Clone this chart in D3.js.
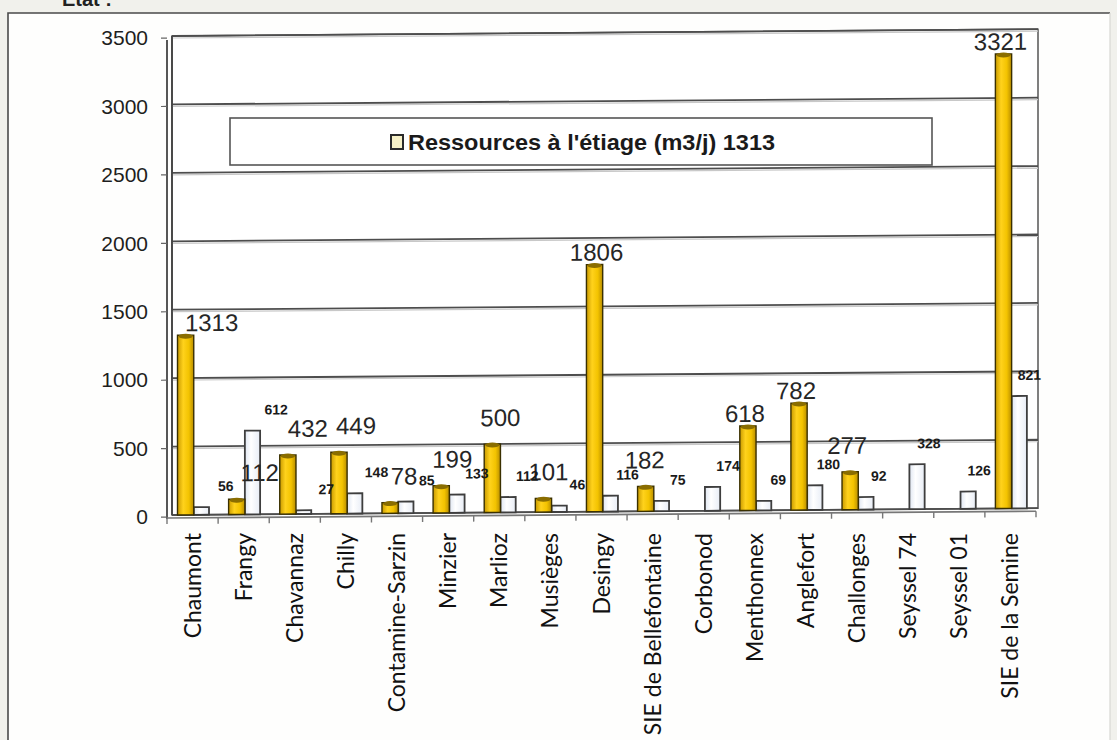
<!DOCTYPE html>
<html>
<head>
<meta charset="utf-8">
<script src="https://cdn.jsdelivr.net/npm/d3@7"></script>
<style>
  html, body { margin: 0; padding: 0; background: #f1f1ec; }
  svg { display: block; }
</style>
</head>
<body>
<svg id="chart" width="1117" height="740"></svg>
<script>
// ---- data ----
const categories = ["Chaumont","Frangy","Chavannaz","Chilly","Contamine-Sarzin","Minzier","Marlioz","Musièges","Desingy","SIE de Bellefontaine","Corbonod","Menthonnex","Anglefort","Challonges","Seyssel 74","Seyssel 01","SIE de la Semine"];
const ressources = [1313,112,432,449,78,199,500,101,1806,182,null,618,782,277,null,null,3321];
const besoins = [56,612,27,148,85,133,112,46,116,75,174,69,180,92,328,126,821];
const yTicks = [0,500,1000,1500,2000,2500,3000,3500];
const legendLabel = "Ressources à l'étiage (m3/j) 1313";
const headerText = "Etat :";

// ---- layout ----
const svg = d3.select("#chart");

const defs = svg.append("defs");
const gOr = defs.append("linearGradient").attr("id","gold").attr("x1","0").attr("x2","1").attr("y1","0").attr("y2","0");
gOr.append("stop").attr("offset","0%").attr("stop-color","#c99a00");
gOr.append("stop").attr("offset","35%").attr("stop-color","#ffd21c");
gOr.append("stop").attr("offset","70%").attr("stop-color","#f3c300");
gOr.append("stop").attr("offset","100%").attr("stop-color","#b88d00");
const gWh = defs.append("linearGradient").attr("id","pale").attr("x1","0").attr("x2","1").attr("y1","0").attr("y2","0");
gWh.append("stop").attr("offset","0%").attr("stop-color","#dfe6f2");
gWh.append("stop").attr("offset","40%").attr("stop-color","#ffffff");
gWh.append("stop").attr("offset","100%").attr("stop-color","#e8edf6");

// outer frame
svg.append("rect").attr("x",8).attr("y",13).attr("width",1102).attr("height",740)
  .attr("fill","#fefefd").attr("stroke","none");
svg.append("path").attr("d","M8,753 L8,13 L1110,13").attr("fill","none")
  .attr("stroke","#4a4a4a").attr("stroke-width",1.6);
svg.append("line").attr("x1",1110).attr("x2",1110).attr("y1",13).attr("y2",740)
  .attr("stroke","#d8d8d4").attr("stroke-width",1.2);

// clipped header text
svg.append("text").attr("x",62).attr("y",6).attr("font-family","Liberation Sans, Arial, sans-serif")
  .attr("font-weight","bold").attr("font-size",20).attr("fill","#222").text(headerText);

const x = d3.scaleBand().domain(categories).range([167, 1036]).padding(0);
const x1 = d3.scaleBand().domain(["r","b"]).range([10.5, 43]).padding(0);
const y = d3.scaleLinear().domain([0, 3500]).range([515, 36]);
const bw = x1.bandwidth();

const xL = 172, xR = 1038;
// plot group with slight perspective skew
const plot = svg.append("g")
  .attr("transform", `translate(${xL},0) skewY(-0.45) translate(${-xL},0)`);

// back wall
plot.append("rect").attr("x", xL).attr("y", y(3500)).attr("width", xR - xL).attr("height", y(0) - y(3500))
  .attr("fill","#ffffff").attr("stroke","#555").attr("stroke-width",1.5);

// gridlines
plot.selectAll("line.grid").data(yTicks).enter().append("line")
  .attr("class","grid")
  .attr("x1", xL).attr("x2", xR)
  .attr("y1", d => y(d)).attr("y2", d => y(d))
  .attr("stroke","#4d4d4d").attr("stroke-width",1.8);
plot.selectAll("line.gridsh").data(yTicks.slice(1)).enter().append("line")
  .attr("class","gridsh")
  .attr("x1", xL).attr("x2", xR)
  .attr("y1", d => y(d) + 2).attr("y2", d => y(d) + 2)
  .attr("stroke","#c8c8c8").attr("stroke-width",1.2);

// left wall (double line)
plot.append("line").attr("x1",167).attr("x2",167).attr("y1", y(3500) + 4).attr("y2", y(0) + 4)
  .attr("stroke","#444").attr("stroke-width",1.8);
plot.append("line").attr("x1",xL).attr("x2",xL).attr("y1", y(3500)).attr("y2", y(0))
  .attr("stroke","#444").attr("stroke-width",1.8);

// y ticks
plot.selectAll("line.ytick").data(yTicks).enter().append("line")
  .attr("x1", 161).attr("x2", 167)
  .attr("y1", d => y(d) + 2).attr("y2", d => y(d) + 2)
  .attr("stroke","#666").attr("stroke-width",1.2);

// floor / x axis
plot.append("line").attr("x1", 167).attr("x2", 1036).attr("y1", y(0) + 3).attr("y2", y(0) + 3)
  .attr("stroke","#777").attr("stroke-width",1.6);
const bounds = categories.map(c => x(c)).concat([x.range()[1]]);
plot.selectAll("line.xtick").data(bounds).enter().append("line")
  .attr("x1", d => d).attr("x2", d => d)
  .attr("y1", y(0) + 3).attr("y2", y(0) + 9)
  .attr("stroke","#777").attr("stroke-width",1.4);

// bars
const rData = categories.map((c,i) => ({c, i, v: ressources[i]})).filter(d => d.v != null);
const bData = categories.map((c,i) => ({c, i, v: besoins[i]})).filter(d => d.v != null);

plot.selectAll("rect.b").data(bData).enter().append("rect")
  .attr("x", d => x(d.c) + x1("b"))
  .attr("y", d => y(d.v))
  .attr("width", bw - 1)
  .attr("height", d => y(0) - y(d.v))
  .attr("fill","url(#pale)").attr("stroke","#3e3e3e").attr("stroke-width",1.8);

plot.selectAll("rect.r").data(rData).enter().append("rect")
  .attr("x", d => x(d.c) + x1("r"))
  .attr("y", d => y(d.v))
  .attr("width", bw)
  .attr("height", d => y(0) - y(d.v))
  .attr("fill","url(#gold)").attr("stroke","#3a3000").attr("stroke-width",1.4);
plot.selectAll("ellipse.r").data(rData).enter().append("ellipse")
  .attr("cx", d => x(d.c) + x1("r") + bw/2)
  .attr("cy", d => y(d.v) + 1)
  .attr("rx", bw/2 - 1).attr("ry", 2.5)
  .attr("fill","#8a6d00");

// value labels
plot.selectAll("text.rl").data(rData).enter().append("text")
  .attr("x", d => x(d.c) + x1("r") + bw/2 + Math.max(-3, 26 - 3*d.i))
  .attr("y", d => y(d.v) + (d.v > 600 ? -4 : -18))
  .attr("text-anchor","middle")
  .attr("font-family","Liberation Sans, Arial, sans-serif")
  .attr("font-size",24).attr("fill","#262626")
  .text(d => d.v);

plot.selectAll("text.bl").data(bData).enter().append("text")
  .attr("x", d => x(d.c) + x1("b") + bw/2 + 24 - 0.9*d.i)
  .attr("y", d => y(d.v) - 16)
  .attr("text-anchor","middle")
  .attr("font-family","Liberation Sans, Arial, sans-serif")
  .attr("font-weight","bold")
  .attr("font-size",14).attr("fill","#1a1a1a")
  .text(d => d.v);

// y tick labels
svg.selectAll("text.yl").data(yTicks).enter().append("text")
  .attr("x", 148).attr("y", d => y(d) + 2)
  .attr("dy","0.35em")
  .attr("text-anchor","end")
  .attr("font-family","Liberation Sans, Arial, sans-serif")
  .attr("font-size",21).attr("fill","#1e1e1e")
  .text(d => d);

// x category labels
svg.selectAll("text.xl").data(categories).enter().append("text")
  .attr("transform", d => `translate(${x(d) + x.bandwidth()/2 + 8},533) rotate(-90)`)
  .attr("text-anchor","end")
  .attr("font-family","Lato, sans-serif")
  .attr("font-size",23).attr("fill","#111")
  .text(d => d);

// legend
const lg = svg.append("g");
lg.append("rect").attr("x",230).attr("y",118).attr("width",702).attr("height",47)
  .attr("fill","#ffffff").attr("stroke","#555").attr("stroke-width",1.6);
lg.append("rect").attr("x",391).attr("y",135).attr("width",12).attr("height",14)
  .attr("fill","#f6f0c6").attr("stroke","#2a2a2a").attr("stroke-width",2);
lg.append("text").attr("x",408).attr("y",150)
  .attr("font-family","Liberation Sans, Arial, sans-serif")
  .attr("font-weight","bold").attr("font-size",22).attr("fill","#1a1a1a")
  .attr("textLength",367).attr("lengthAdjust","spacingAndGlyphs")
  .text(legendLabel);
</script>
</body>
</html>
